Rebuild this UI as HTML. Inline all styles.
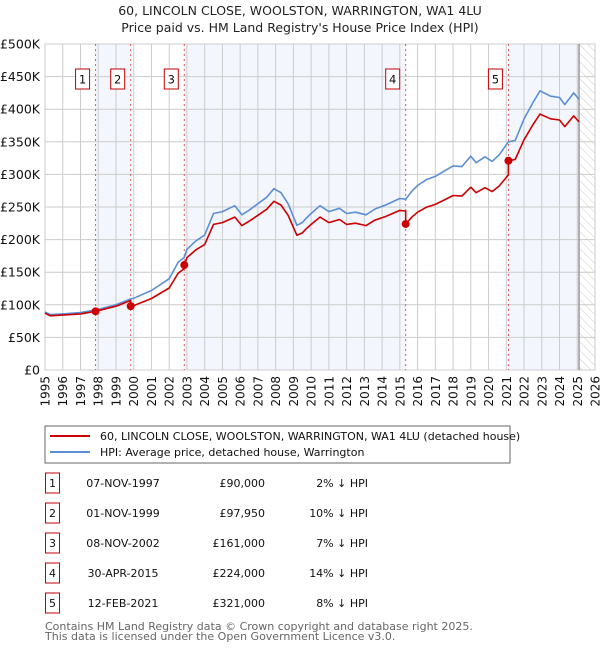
<!DOCTYPE html>
<html><head><meta charset="utf-8"><style>
body{margin:0;background:#fff;font-family:"DejaVu Sans","Liberation Sans",sans-serif;}
svg text{font-family:"DejaVu Sans","Liberation Sans",sans-serif;}
</style></head><body>
<svg id="c" width="600" height="650" xmlns="http://www.w3.org/2000/svg">
<defs><pattern id="hatch" width="6" height="6" patternUnits="userSpaceOnUse" patternTransform="rotate(-45)"><line x1="0" y1="0" x2="0" y2="6" stroke="#ccc" stroke-width="1"/></pattern></defs>
<text x="300" y="15" text-anchor="middle" font-size="12.5" fill="#222">60, LINCOLN CLOSE, WOOLSTON, WARRINGTON, WA1 4LU</text>
<text x="300" y="32" text-anchor="middle" font-size="12.5" fill="#222">Price paid vs. HM Land Registry's House Price Index (HPI)</text>
<g id="plot"></g>
<g>
<rect x="45" y="426" width="465" height="37" fill="#fff" stroke="#666"/>
<line x1="50" y1="436" x2="90" y2="436" stroke="#cc0000" stroke-width="2"/>
<text x="100" y="440" font-size="11" fill="#111">60, LINCOLN CLOSE, WOOLSTON, WARRINGTON, WA1 4LU (detached house)</text>
<line x1="50" y1="452" x2="90" y2="452" stroke="#5b8fd4" stroke-width="2"/>
<text x="100" y="456" font-size="11" fill="#111">HPI: Average price, detached house, Warrington</text>
</g>
<g id="table"></g>
<text x="45" y="630" font-size="11" fill="#666">Contains HM Land Registry data © Crown copyright and database right 2025.</text>
<text x="45" y="640" font-size="11" fill="#666">This data is licensed under the Open Government Licence v3.0.</text>
</svg>
<script>
const hpiYears=[1995,1995.3,1996,1997,1997.85,1998,1999,1999.83,2000,2001,2002,2002.5,2002.85,2003,2003.5,2004,2004.5,2005,2005.7,2006.1,2006.5,2007,2007.5,2007.9,2008.3,2008.7,2009.2,2009.5,2009.7,2010,2010.5,2011,2011.6,2012,2012.5,2013.1,2013.6,2014.2,2015,2015.33,2015.7,2016,2016.5,2017,2017.5,2018,2018.5,2019,2019.3,2019.8,2020.2,2020.6,2021.12,2021.5,2022,2022.5,2022.9,2023.5,2024,2024.3,2024.8,2025.1];
const hpiValues=[89000,85000,86000,88000,92000,93000,100000,109000,110000,122000,140000,165000,173000,185000,198000,207000,240000,243000,252000,238000,245000,255000,265000,278000,272000,255000,222000,226000,232000,240000,252000,243000,248000,240000,242000,238000,247000,253000,263000,262000,275000,283000,292000,297000,305000,313000,312000,328000,318000,327000,320000,330000,350000,352000,385000,410000,428000,420000,418000,407000,425000,415000];
const saleLabels=["1","2","3","4","5"];
const saleYears=[1997.85,1999.83,2002.85,2015.33,2021.12];
const salePrices=[90000,97950,161000,224000,321000];
const saleDates=["07-NOV-1997","01-NOV-1999","08-NOV-2002","30-APR-2015","12-FEB-2021"];
const salePriceText=["£90,000","£97,950","£161,000","£224,000","£321,000"];
const saleHpiText=["2% ↓ HPI","10% ↓ HPI","7% ↓ HPI","14% ↓ HPI","8% ↓ HPI"];
const yTicks=[0,50000,100000,150000,200000,250000,300000,350000,400000,450000,500000];
const yTickLabels=["£0","£50K","£100K","£150K","£200K","£250K","£300K","£350K","£400K","£450K","£500K"];
const xTicks=[1995,1996,1997,1998,1999,2000,2001,2002,2003,2004,2005,2006,2007,2008,2009,2010,2011,2012,2013,2014,2015,2016,2017,2018,2019,2020,2021,2022,2023,2024,2025,2026];
const dataEnd=2025.1;

const X0=45,X1=595,Y0=370,Y1=44;
const xs=y=>X0+(y-1995)/(2026-1995)*(X1-X0);
const ys=v=>Y0-v/500000*(Y0-Y1);
const NS="http://www.w3.org/2000/svg";
const plot=document.getElementById('plot');
function mk(tag,attrs,parent){const e=document.createElementNS(NS,tag);for(const k in attrs)e.setAttribute(k,attrs[k]);(parent||plot).appendChild(e);return e;}
function hpiAt(t){for(let i=0;i<hpiYears.length-1;i++){if(t<=hpiYears[i+1]){const f=(t-hpiYears[i])/(hpiYears[i+1]-hpiYears[i]);return hpiValues[i]+f*(hpiValues[i+1]-hpiValues[i]);}}return hpiValues[hpiValues.length-1];}

const bands=[[saleYears[0],saleYears[1]],[saleYears[2],saleYears[3]],[saleYears[4],dataEnd]];
bands.forEach((b,i)=>{const r=mk('rect',{x:xs(b[0]),y:Y1,width:xs(b[1])-xs(b[0]),height:Y0-Y1,fill:'#f3f6fd'});

});
const h=mk('rect',{x:xs(dataEnd),y:Y1,width:X1-xs(dataEnd),height:Y0-Y1,fill:'url(#hatch)'});


xTicks.forEach(t=>{mk('line',{x1:xs(t),x2:xs(t),y1:Y1,y2:Y0,stroke:'#ccc','stroke-width':1});
const tx=mk('text',{x:0,y:0,'font-size':12,fill:'#111','text-anchor':'end',transform:`translate(${xs(t)+4.5},${Y0+6}) rotate(-90)`});tx.textContent=t;

});
yTicks.forEach((t,i)=>{mk('line',{x1:X0,x2:X1,y1:ys(t),y2:ys(t),stroke:'#ccc','stroke-width':1});
const tx=mk('text',{x:X0-5,y:ys(t)+4.5,'font-size':12.5,fill:'#111','text-anchor':'end'});tx.textContent=yTickLabels[i];

});
mk('rect',{x:X0,y:Y1,width:X1-X0,height:Y0-Y1,fill:'none',stroke:'#ccc'});
mk('line',{x1:xs(dataEnd),x2:xs(dataEnd),y1:Y1,y2:Y0,stroke:'#999','stroke-width':1.5});
saleYears.forEach((s,i)=>{const l=mk('line',{x1:xs(s),x2:xs(s),y1:Y1,y2:Y0,stroke:'#e05555','stroke-width':1,'stroke-dasharray':'2,3'});


const g=mk('g',{});


mk('rect',{x:xs(s)-20,y:69,width:14,height:20,fill:'#fff',stroke:'#c00000'},g);
const t=mk('text',{x:xs(s)-13,y:83.5,'font-size':11.5,'text-anchor':'middle',fill:'#111'},g);t.textContent=saleLabels[i];});
let pts=hpiYears.map((y,i)=>xs(y).toFixed(1)+','+ys(hpiValues[i]).toFixed(1)).join(' ');
const hl=mk('polyline',{points:pts,fill:'none',stroke:'#5b8fd4','stroke-width':1.6,'stroke-linejoin':'round'});


function factor(t){let k=0;for(let i=0;i<saleYears.length;i++)if(t>=saleYears[i])k=i;return salePrices[k]/hpiAt(saleYears[k]);}
let rp=[];
const tt=[...hpiYears,...saleYears].sort((a,b)=>a-b);
tt.forEach(t=>{saleYears.forEach((s,i)=>{if(t===s&&i>0)rp.push([t,hpiAt(t)*salePrices[i-1]/hpiAt(saleYears[i-1])]);});rp.push([t,hpiAt(t)*factor(t)]);});
const pl=mk('polyline',{points:rp.map(p=>xs(p[0]).toFixed(1)+','+ys(p[1]).toFixed(1)).join(' '),fill:'none',stroke:'#cc0000','stroke-width':1.6,'stroke-linejoin':'round'});


saleYears.forEach((s,i)=>{const c=mk('circle',{cx:xs(s),cy:ys(salePrices[i]),r:4,fill:'#cc0000'});

});
const tb=document.getElementById('table');
saleLabels.forEach((lab,i)=>{const y=483+i*30;
const g=mk('g',{},tb);


mk('rect',{x:45.5,y:y-10,width:14,height:20,fill:'#fff',stroke:'#c00000'},g);
let t=mk('text',{x:52.5,y:y+4,'font-size':11,'text-anchor':'middle',fill:'#111'},g);t.textContent=lab;
t=mk('text',{x:123,y:y+4,'font-size':11,'text-anchor':'middle',fill:'#111'},g);t.textContent=saleDates[i];
t=mk('text',{x:265,y:y+4,'font-size':11,'text-anchor':'end',fill:'#111'},g);t.textContent=salePriceText[i];
t=mk('text',{x:368,y:y+4,'font-size':11,'text-anchor':'end',fill:'#111'},g);t.textContent=saleHpiText[i];});
</script>
</body></html>
